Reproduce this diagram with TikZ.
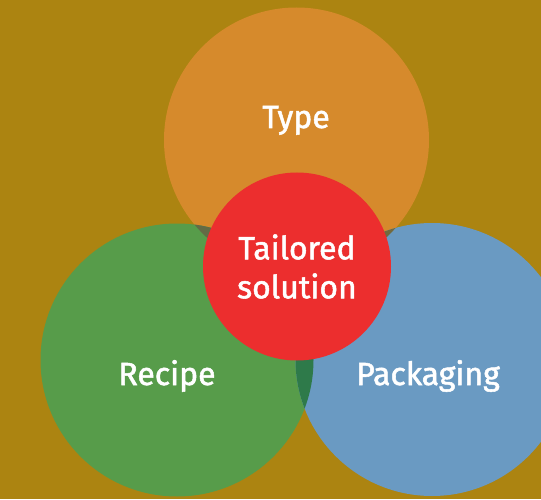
\documentclass[tikz,border=0pt]{standalone}
\usepackage{fontspec}
\setmainfont{Fira Sans}
\newfontfamily\vennfont[FakeBold=1.6]{Fira Sans}
\definecolor{bgolive}{HTML}{AC8411}
\definecolor{typeorange}{HTML}{D68A2C}
\definecolor{recipegreen}{HTML}{579C4A}
\definecolor{packblue}{HTML}{6A9AC2}
\definecolor{coreRed}{HTML}{EC2E2E}
\definecolor{typerecipe}{HTML}{636B45}
\definecolor{typepack}{HTML}{736A3E}
\definecolor{recipepack}{HTML}{2E7A4A}

\begin{document}
\begin{tikzpicture}[x=1pt,y=1pt,
    lbl/.style={text=white,font=\vennfont\fontsize{32}{39}\selectfont,align=center,inner sep=0pt}]
  \fill[bgolive] (0,0) rectangle (541,499);
  \useasboundingbox (0,0) rectangle (541,499);

  \coordinate (typeC) at (296.5,359);
  \coordinate (recipeC) at (177,139);
  \coordinate (packC) at (432,139.5);
  \coordinate (coreC) at (297,232.5);

  \fill[typeorange] (typeC) circle (132.5);
  \fill[recipegreen] (recipeC) circle (136.5);
  \fill[packblue] (packC) circle (136.5);

  % overlaps
  \begin{scope}
    \clip (typeC) circle (132.5);
    \fill[typerecipe] (recipeC) circle (136.5);
    \fill[typepack] (packC) circle (136.5);
  \end{scope}
  \begin{scope}
    \clip (recipeC) circle (136.5);
    \fill[recipepack] (packC) circle (136.5);
  \end{scope}

  \fill[coreRed] (coreC) circle (94);

  \node (type) [lbl,anchor=base] at (296,371) {Type};
  \node (recipe) [lbl,anchor=base] at (167,114) {Recipe};
  \node (packaging) [lbl,anchor=base] at (428,114) {Packaging};
  \node (core) [lbl] at (coreC) {Tailored\\solution};
\end{tikzpicture}
\end{document}
